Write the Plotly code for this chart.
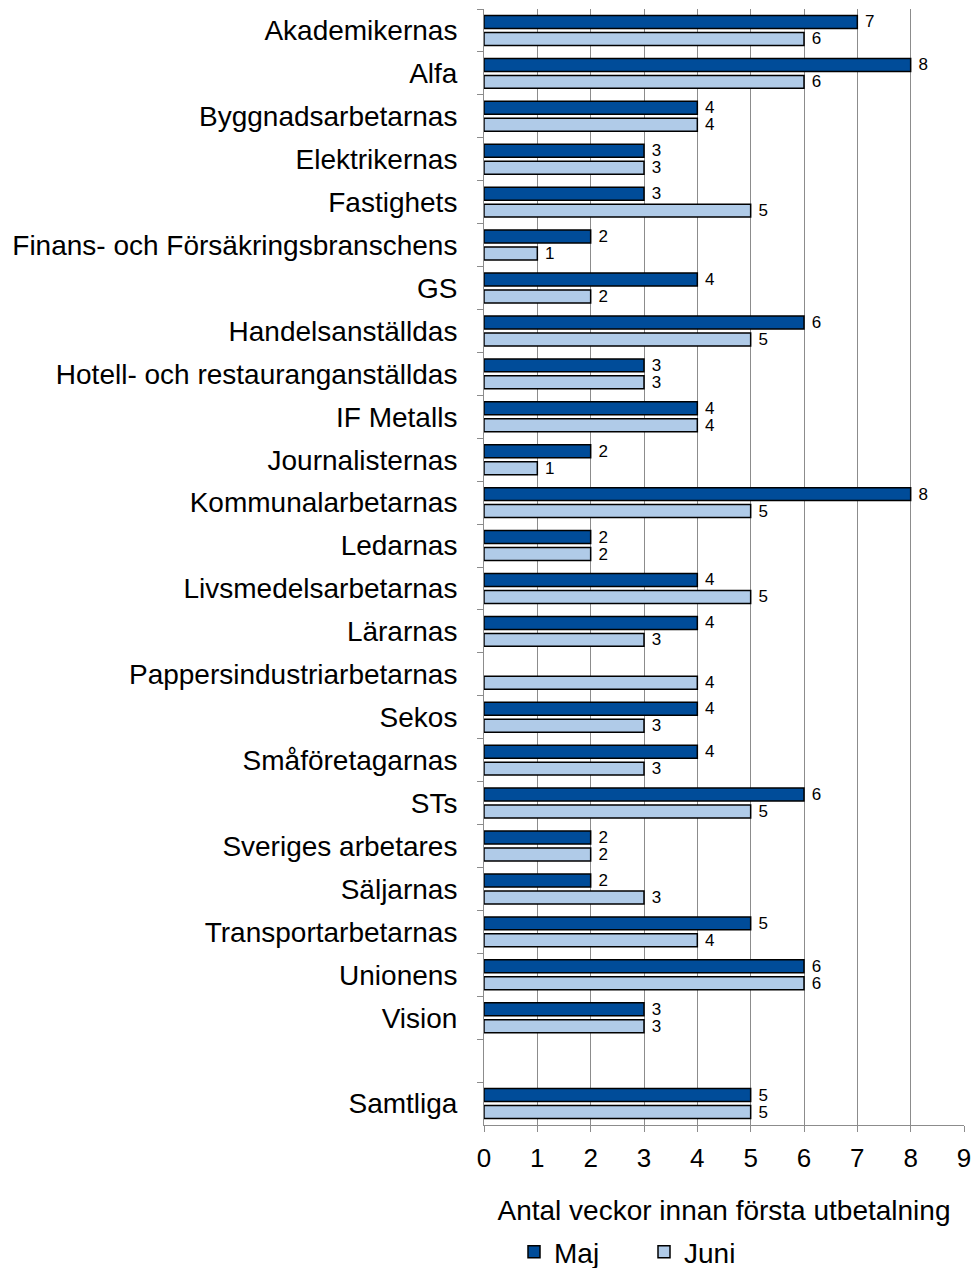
import plotly.graph_objects as go

categories = [
    "Akademikernas", "Alfa", "Byggnadsarbetarnas", "Elektrikernas", "Fastighets",
    "Finans- och Försäkringsbranschens", "GS", "Handelsanställdas",
    "Hotell- och restauranganställdas", "IF Metalls", "Journalisternas",
    "Kommunalarbetarnas", "Ledarnas", "Livsmedelsarbetarnas", "Lärarnas",
    "Pappersindustriarbetarnas", "Sekos", "Småföretagarnas", "STs",
    "Sveriges arbetares", "Säljarnas", "Transportarbetarnas", "Unionens",
    "Vision", " ", "Samtliga",
]
maj = [7, 8, 4, 3, 3, 2, 4, 6, 3, 4, 2, 8, 2, 4, 4, None, 4, 4, 6, 2, 2, 5, 6, 3, None, 5]
juni = [6, 6, 4, 3, 5, 1, 2, 5, 3, 4, 1, 5, 2, 5, 3, 4, 3, 3, 5, 2, 3, 4, 6, 3, None, 5]
x_ticks = [0, 1, 2, 3, 4, 5, 6, 7, 8, 9]
x_title = "Antal veckor innan första utbetalning"

FONT = "Liberation Sans, Arial, sans-serif"

def labels(vals):
    return ["" if v is None else "\u00a0" + str(v) for v in vals]

fig = go.Figure()
fig.add_trace(go.Bar(
    y=categories, x=maj, name="Maj", orientation="h",
    marker=dict(color="#004C99", line=dict(color="black", width=1.5)),
    text=labels(maj), textposition="outside", constraintext="none", cliponaxis=False,
    textfont=dict(family=FONT, size=17, color="black"),
))
fig.add_trace(go.Bar(
    y=categories, x=juni, name="Juni", orientation="h",
    marker=dict(color="#B0CBE8", line=dict(color="black", width=1.5)),
    text=labels(juni), textposition="outside", constraintext="none", cliponaxis=False,
    textfont=dict(family=FONT, size=17, color="black"),
))

fig.update_layout(
    width=976, height=1268,
    margin=dict(l=484, r=12, t=9, b=143, autoexpand=False),
    paper_bgcolor="white", plot_bgcolor="white",
    barmode="group", bargap=0.21, bargroupgap=0.235,
    font=dict(family=FONT, color="black"),
    showlegend=True,
    legend=dict(orientation="h", x=0.0625, xanchor="left", y=-0.1138, yanchor="middle",
                font=dict(family=FONT, size=28, color="black"),
                entrywidth=85, entrywidthmode="pixels", traceorder="normal"),
    xaxis=dict(range=[0, 9], tickvals=x_ticks, showgrid=True, gridcolor="#8C8C8C", gridwidth=1,
               showline=True, linecolor="#8C8C8C", linewidth=1, ticks="outside", ticklen=6,
               tickcolor="#8C8C8C", tickfont=dict(family=FONT, size=26, color="black"),
               zeroline=False, automargin=False, ticklabelstandoff=4,
               title=dict(text=x_title, font=dict(family=FONT, size=28, color="black"), standoff=28)),
    yaxis=dict(autorange="reversed", type="category", tickson="boundaries", ticks="outside",
               ticklen=6, tickcolor="#8C8C8C", showline=True, linecolor="#8C8C8C", linewidth=1,
               showgrid=False, tickfont=dict(family=FONT, size=28, color="black"),
               ticklabelstandoff=20, automargin=False),
)

fig.write_html("out.html", config={"displayModeBar": False},
               post_script="document.body.style.margin='0';")
